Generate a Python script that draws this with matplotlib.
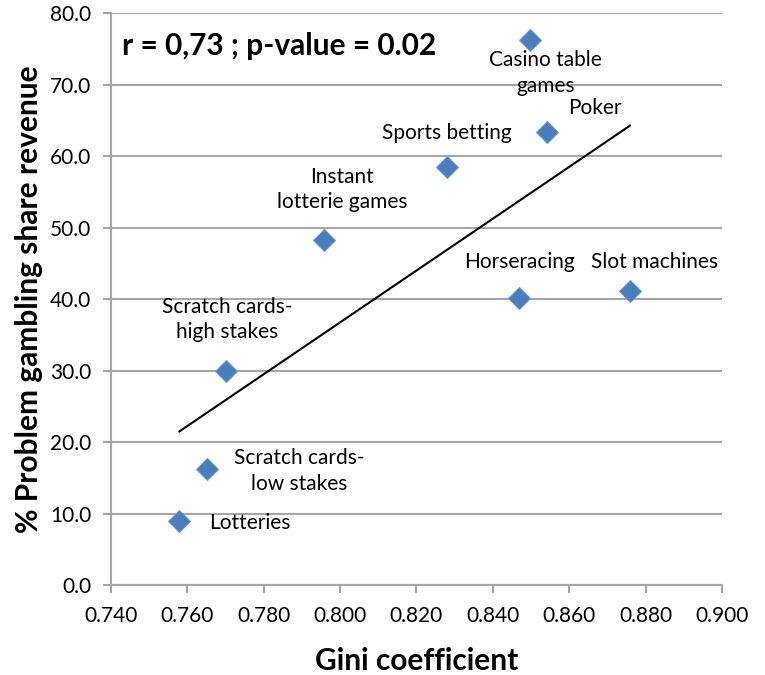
import numpy as np
import matplotlib
matplotlib.use("Agg")
import matplotlib.pyplot as plt

plt.rcParams['font.family'] = ['Lato', 'DejaVu Sans']

categories = ["Lotteries", "Scratch cards-\nlow stakes", "Scratch cards-\nhigh stakes",
              "Instant\nlotterie games", "Sports betting", "Casino table\ngames",
              "Poker", "Horseracing", "Slot machines"]
gini = [0.758, 0.7652, 0.7702, 0.7958, 0.828, 0.8498, 0.8542, 0.8469, 0.8759]
share = [9.0, 16.2, 30.0, 48.2, 58.5, 76.2, 63.4, 40.1, 41.1]
x_ticks = [0.740, 0.760, 0.780, 0.800, 0.820, 0.840, 0.860, 0.880, 0.900]
y_ticks = [0.0, 10.0, 20.0, 30.0, 40.0, 50.0, 60.0, 70.0, 80.0]
label_offsets = [(70, -2), (92, -2), (1, 51), (18, 51), (0, 34), (15, -33),
                 (48, 24), (0, 36), (25, 29)]

fig = plt.figure(figsize=(7.65, 6.75), dpi=100)
ax = fig.add_axes([0.1447, 0.1333, 0.7991, 0.8474])

gc = '#A6A6A6'
ax.set_xlim(0.740, 0.900)
ax.set_ylim(0, 80)
ax.set_xticks(x_ticks)
ax.set_yticks(y_ticks)
ax.set_xticklabels([f"{v:.3f}" for v in x_ticks])
ax.set_yticklabels([f"{v:.1f}" for v in y_ticks])
ax.yaxis.grid(True, color=gc, lw=1.5)
ax.set_axisbelow(True)
for s in ['top', 'right']:
    ax.spines[s].set_visible(False)
for s in ['left', 'bottom']:
    ax.spines[s].set_color(gc)
    ax.spines[s].set_linewidth(1.5)
ax.tick_params(axis='both', colors=gc, length=6, width=1.5, labelsize=15,
               labelcolor='black')
ax.tick_params(axis='x', pad=9)
ax.tick_params(axis='y', pad=8)

# trend line
coef = np.polyfit(gini, share, 1)
xs = np.array([min(gini), max(gini)])
ax.plot(xs, np.polyval(coef, xs), color='black', lw=1.5, zorder=2)

ax.plot(gini, share, linestyle='none', marker='D', ms=11, color='#4A7EBB',
        markeredgecolor='#6A9BD8', markeredgewidth=0.8, zorder=3)

for xv, yv, lab, off in zip(gini, share, categories, label_offsets):
    ax.annotate(lab, (xv, yv), xytext=off, textcoords='offset pixels',
                ha='center', va='center', fontsize=15, linespacing=1.35)

ax.text(0.018, 0.943, "r = 0,73 ; p-value = 0.02", transform=ax.transAxes,
        fontsize=21.5, fontweight='bold', ha='left', va='center')

ax.set_xlabel("Gini coefficient", fontsize=21.5, fontweight='bold', labelpad=15)
ax.set_ylabel("% Problem gambling share revenue", fontsize=21.5, fontweight='bold',
              labelpad=5)

fig.savefig("out.png", dpi=100)
